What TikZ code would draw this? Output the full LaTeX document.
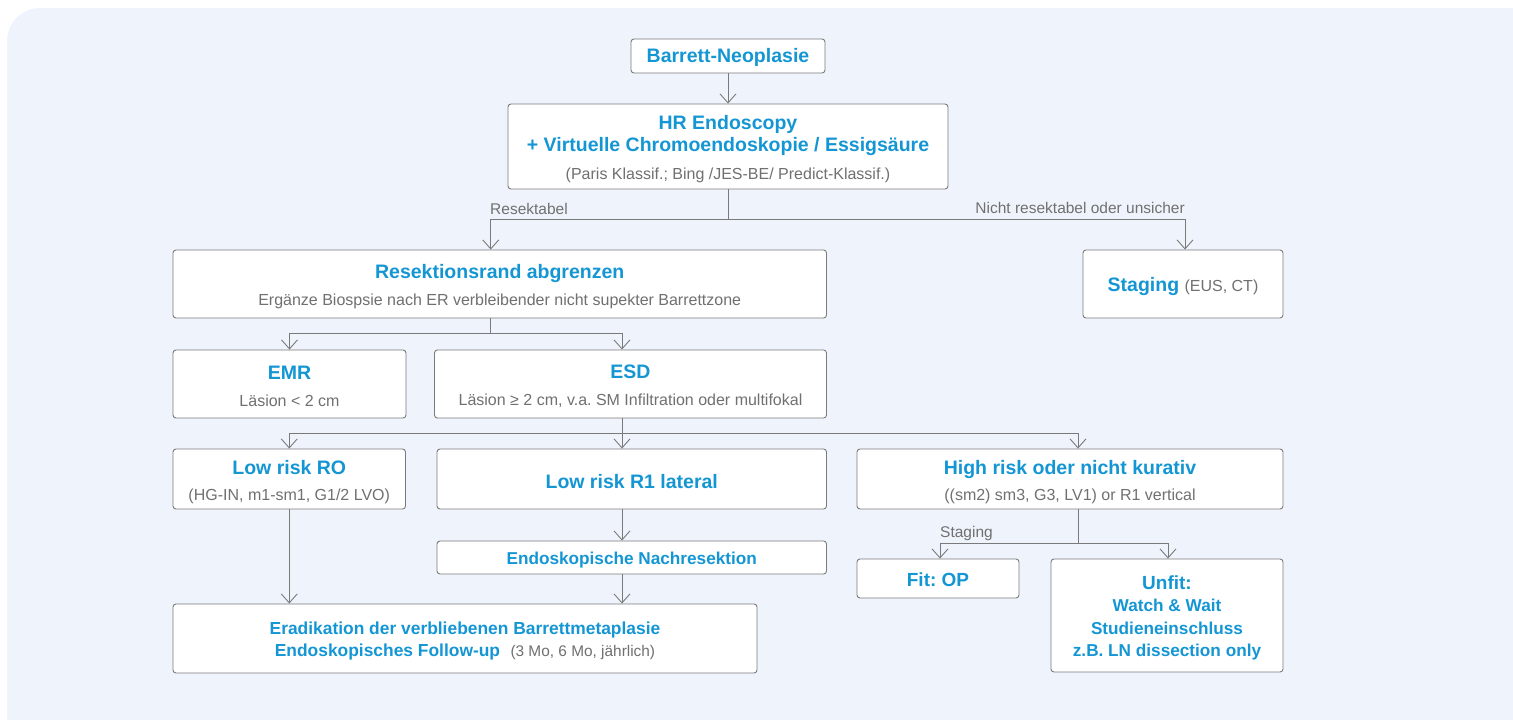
\documentclass[tikz,border=0pt]{standalone}
\usepackage{fontspec}
\setmainfont{Liberation Sans}
\usetikzlibrary{arrows.meta}
\definecolor{panelc}{RGB}{239,244,252}
\definecolor{bluec}{RGB}{20,150,212}
\definecolor{grayc}{RGB}{112,112,112}
\definecolor{linec}{RGB}{122,122,122}
\newcommand\subtxt[2][16]{{\mdseries\color{grayc}\fontsize{#1}{20}\selectfont #2}}
\newcommand\smbold[2][17.2]{{\fontsize{#1}{22}\selectfont #2}}
\newcommand\tst[1][20.2pt]{\rule{0pt}{#1}}
\frenchspacing
\begin{document}
\frenchspacing
\begin{tikzpicture}[x=1pt,y=-1pt,
  box/.style={draw=linec, fill=white, rounded corners=3pt, line width=0.9pt,
    inner sep=0pt, align=center, text=bluec,
    font=\bfseries\fontsize{19.5}{22}\selectfont},
  conn/.style={draw=linec, line width=0.9pt},
  arr/.style={conn, -{Straight Barb[length=9pt,width=16pt]}},
  lbl/.style={text=grayc, font=\fontsize{15.5}{18}\selectfont, inner sep=0pt}]
\useasboundingbox (0,0) rectangle (1513,720);
\fill[panelc] (1513,720) -- (7,720) -- (7,41) arc[start angle=180, end angle=270, radius=33] -- (1513,8) -- cycle;

% boxes
\node[box, minimum width=194pt, minimum height=34pt] (bn) at (728,56) {\tst[16.2pt]Barrett-Neoplasie};
\node[box, minimum width=440pt, minimum height=85pt] (hr) at (728,146.5)
  {\tst HR Endoscopy\\+ Virtuelle Chromoendoskopie / Essigsäure\\[6pt]\subtxt{(Paris Klassif.; Bing /JES-BE/ Predict-Klassif.)}};
\node[box, minimum width=653.5pt, minimum height=68pt] (rr) at (499.75,284)
  {\tst Resektionsrand abgrenzen\\[5pt]\subtxt{Ergänze Biospsie nach ER verbleibender nicht supekter Barrettzone}};
\node[box, minimum width=200pt, minimum height=68pt] (st) at (1183,284)
  {\tst[18.2pt]Staging \subtxt{(EUS, CT)}};
\node[box, minimum width=233pt, minimum height=68pt] (emr) at (289.5,384)
  {\tst[18.2pt]EMR\\[5pt]\subtxt{Läsion < 2 cm}};
\node[box, minimum width=392pt, minimum height=68pt] (esd) at (630.5,384)
  {\tst[18.2pt]ESD\\[5pt]\subtxt{Läsion ≥ 2 cm, v.a.\ SM Infiltration oder multifokal}};
\node[box, minimum width=232.5pt, minimum height=60pt] (lr0) at (289.25,479)
  {\tst Low risk RO\\[4pt]\subtxt{(HG-IN, m1-sm1, G1/2 LVO)}};
\node[box, minimum width=389.5pt, minimum height=60pt] (lr1) at (631.75,479)
  {\tst[18.2pt]Low risk R1 lateral};
\node[box, minimum width=426pt, minimum height=60pt] (hrk) at (1070,479)
  {\tst High risk oder nicht kurativ\\[4pt]\subtxt{((sm2) sm3, G3, LV1) or R1 vertical}};
\node[box, minimum width=389.5pt, minimum height=33pt] (nach) at (631.75,557.5)
  {\tst[16.6pt]\smbold{Endoskopische Nachresektion}};
\node[box, minimum width=584pt, minimum height=69pt] (er) at (465,638.5)
  {\tst[16.7pt]\smbold[17.4]{Eradikation der verbliebenen Barrettmetaplasie}\\
   \smbold[17.4]{Endoskopisches Follow-up}\hspace{5pt} \subtxt[15.4]{(3 Mo, 6 Mo, jährlich)}};
\node[box, minimum width=162pt, minimum height=39pt] (fit) at (938,578.5)
  {\tst[16.6pt]\smbold[19]{Fit:\ OP}};
\node[box, minimum width=232pt, minimum height=113pt] (unfit) at (1167,615.5)
  {\tst[17.6pt]\smbold[19]{Unfit:}\\[0.5pt]\smbold[17.2]{Watch \& Wait}\\[0.5pt]\smbold[17.2]{Studieneinschluss}\\\smbold[17.2]{z.B.\ LN dissection only}};

% connectors
\draw[arr] (bn.south) -- (hr.north);
\coordinate (j1) at (728,219.5);
\draw[conn] (hr.south) -- (j1);
\draw[arr] (j1) -| ([xshift=-9pt]rr.north);
\draw[arr] (j1) -| ([xshift=2pt]st.north);
\node[lbl, anchor=west] (lres) at (490,209) {Resektabel};
\node[lbl, anchor=east] (lnr) at (1185,208) {Nicht resektabel oder unsicher};

\coordinate (j2) at (490,333);
\draw[conn] ([xshift=-9.75pt]rr.south) -- (j2);
\draw[arr] (j2) -| (emr.north);
\draw[arr] (j2) -| ([xshift=-8.5pt]esd.north);

\coordinate (j3) at (622,433);
\draw[conn] ([xshift=-8.5pt]esd.south) -- (j3);
\draw[arr] (j3) -| (lr0.north);
\draw[arr] (j3) -- ([xshift=-9.75pt]lr1.north);
\draw[arr] (j3) -| ([xshift=8pt]hrk.north);

\draw[arr] ([xshift=-9.75pt]lr1.south) -- ([xshift=-9.75pt]nach.north);
\draw[arr] ([xshift=-9.75pt]nach.south) -- ([xshift=157pt]er.north);
\draw[arr] (lr0.south) -- ([xshift=-175.75pt]er.north);

\coordinate (j4) at (1078,543.5);
\draw[conn] ([xshift=8pt]hrk.south) -- (j4);
\draw[arr] (j4) -| ([xshift=2pt]fit.north);
\draw[arr] (j4) -| ([xshift=1pt]unfit.north);
\node[lbl, anchor=west] (lst) at (940,533) {Staging};
\end{tikzpicture}
\end{document}
